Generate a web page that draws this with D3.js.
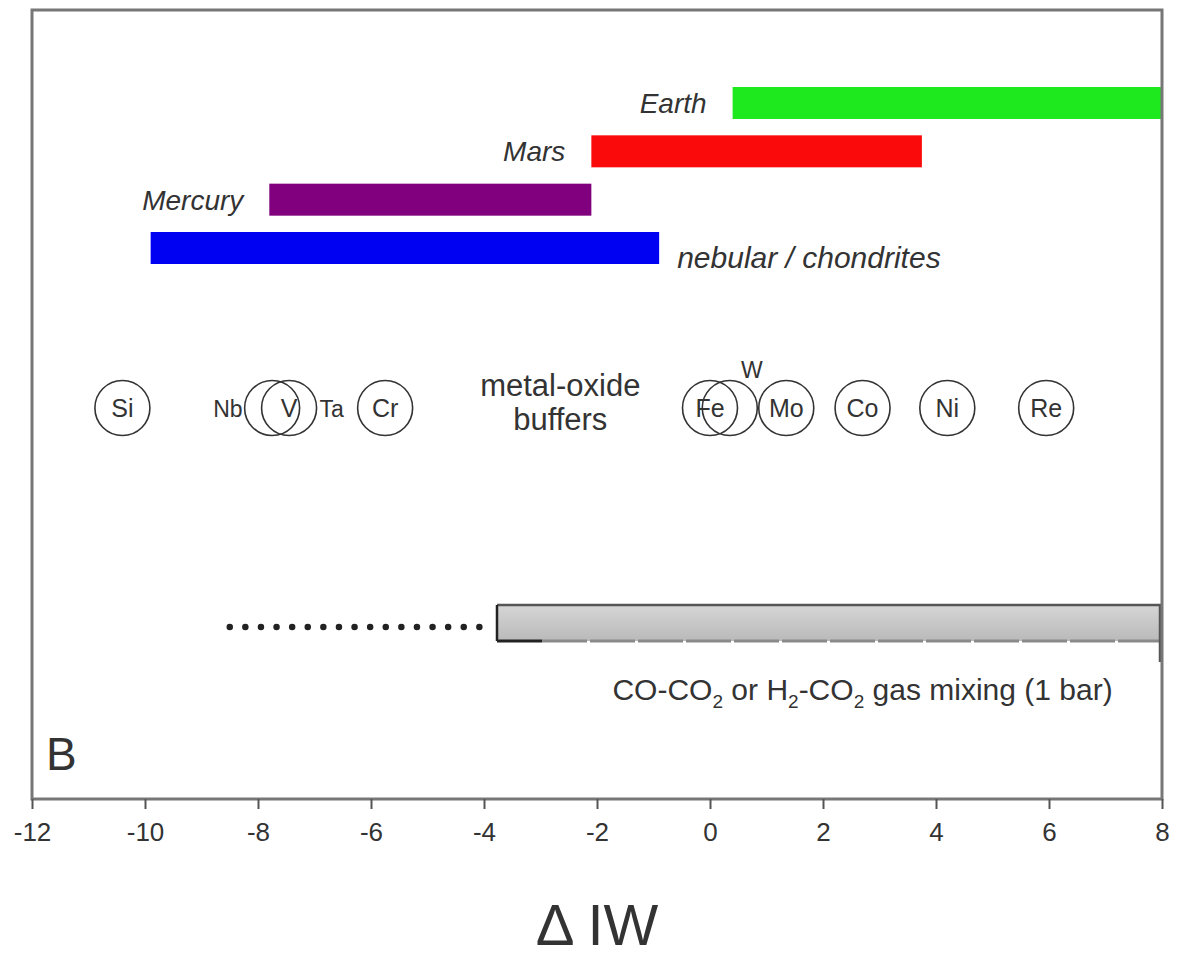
<!DOCTYPE html>
<html>
<head>
<meta charset="utf-8">
<script src="https://cdn.jsdelivr.net/npm/d3@7"></script>
<style>
  body { margin: 0; background: #fff; }
  svg text { font-family: "Liberation Sans", Arial, sans-serif; fill: #333; }
</style>
</head>
<body>
<svg id="chart" width="1184" height="961"></svg>
<script>
// oxygen fugacity ranges (delta IW) for bodies
const bodies = ["Earth", "Mars", "Mercury", "nebular / chondrites"];
const bodyMin = [0.4, -2.1, -7.8, -9.9];
const bodyMax = [8, 3.75, -2.1, -0.9];

// metal-oxide buffers
const elements = ["Si", "Nb", "V", "Ta", "Cr", "Fe", "W", "Mo", "Co", "Ni", "Re"];
const elementIW = [-10.4, -7.75, -7.45, -7.45, -5.75, 0.0, 0.35, 1.35, 2.7, 4.2, 5.95];

// gas mixing range and its dotted extension
const gasRange = [-3.77, 8];
const gasDotted = [-8.5, -3.85];

const xTicks = [-12, -10, -8, -6, -4, -2, 0, 2, 4, 6, 8];

const svg = d3.select("#chart");
const margin = {top: 10, right: 22, bottom: 162, left: 32};
const width = 1184 - margin.left - margin.right;
const height = 961 - margin.top - margin.bottom;

const g = svg.append("g")
    .attr("transform", `translate(${margin.left}, ${margin.top})`);

const x = d3.scaleLinear().domain([-12, 8]).range([0, width]);

// rows of the body bars
const yBars = d3.scalePoint().domain(bodies).range([93, 238]);
const barH = 32;
const color = d3.scaleOrdinal()
    .domain(bodies)
    .range(["#1ee81e", "#fa0a0a", "#80007e", "#0000f2"]);

const bars = bodies.map((b, i) => ({name: b, lo: bodyMin[i], hi: bodyMax[i]}));

g.selectAll("rect.body")
    .data(bars)
    .enter()
    .append("rect")
    .attr("class", "body")
    .attr("x", d => x(d.lo))
    .attr("y", d => yBars(d.name) - barH / 2)
    .attr("width", d => x(d.hi) - x(d.lo))
    .attr("height", barH)
    .attr("fill", d => color(d.name));

g.selectAll("text.body")
    .data(bars)
    .enter()
    .append("text")
    .attr("class", "body")
    .attr("x", d => d.name.startsWith("nebular") ? x(d.hi) + 18 : x(d.lo) - 26)
    .attr("y", d => yBars(d.name) + (d.name.startsWith("nebular") ? 20 : 10))
    .attr("text-anchor", d => d.name.startsWith("nebular") ? "start" : "end")
    .style("font-style", "italic")
    .style("font-size", d => d.name.startsWith("nebular") ? "30px" : "28px")
    .text(d => d.name);

// element circles
const circleY = 398;
const r = 27.5;
const labelPos = {Nb: "left", Ta: "right", W: "top"};
const els = elements.map((e, i) => ({name: e, v: elementIW[i]}));

g.selectAll("circle.el")
    .data(els.filter(d => d.name !== "Ta"))
    .enter()
    .append("circle")
    .attr("class", "el")
    .attr("cx", d => x(d.v))
    .attr("cy", circleY)
    .attr("r", r)
    .attr("fill", "none")
    .attr("stroke", "#333")
    .attr("stroke-width", 1.6);

g.selectAll("text.el")
    .data(els)
    .enter()
    .append("text")
    .attr("class", "el")
    .attr("x", d => {
        const p = labelPos[d.name];
        if (p === "left") return x(d.v) - r - 2;
        if (p === "right") return x(d.v) + r + 3;
        if (p === "top") return x(d.v) + 22;
        return x(d.v);
    })
    .attr("y", d => labelPos[d.name] === "top" ? circleY - 30 : circleY + 9)
    .attr("text-anchor", d => {
        const p = labelPos[d.name];
        if (p === "left") return "end";
        if (p === "right") return "start";
        return "middle";
    })
    .style("font-size", d => labelPos[d.name] ? "23px" : "25px")
    .text(d => d.name);

const buf = g.append("text")
    .attr("x", x(-2.65))
    .attr("y", circleY - 12)
    .attr("text-anchor", "middle")
    .style("font-size", "31px");
buf.append("tspan").attr("x", x(-2.65)).text("metal-oxide");
buf.append("tspan").attr("x", x(-2.65)).attr("dy", 34).text("buffers");

// gas mixing bar
const gasTop = 595, gasH = 36;
const defs = svg.append("defs");
const grad = defs.append("linearGradient").attr("id", "gasFill")
    .attr("x1", 0).attr("y1", 0).attr("x2", 0).attr("y2", 1);
grad.append("stop").attr("offset", "0%").attr("stop-color", "#d6d6d6");
grad.append("stop").attr("offset", "100%").attr("stop-color", "#b9b9b9");

g.append("rect")
    .attr("x", x(gasRange[0]))
    .attr("y", gasTop)
    .attr("width", x(gasRange[1]) - x(gasRange[0]))
    .attr("height", gasH)
    .attr("fill", "url(#gasFill)");

g.append("line")
    .attr("x1", x(gasRange[0])).attr("x2", x(gasRange[1]))
    .attr("y1", gasTop).attr("y2", gasTop)
    .attr("stroke", "#555").attr("stroke-width", 2.5);

g.append("line")
    .attr("x1", x(gasRange[0])).attr("x2", x(gasRange[0]))
    .attr("y1", gasTop).attr("y2", gasTop + gasH)
    .attr("stroke", "#222").attr("stroke-width", 2.5);

g.append("line")
    .attr("x1", x(gasRange[0])).attr("x2", x(gasRange[0]) + 45)
    .attr("y1", gasTop + gasH).attr("y2", gasTop + gasH)
    .attr("stroke", "#222").attr("stroke-width", 3);

g.append("line")
    .attr("x1", x(gasRange[0]) + 45).attr("x2", x(gasRange[1]))
    .attr("y1", gasTop + gasH).attr("y2", gasTop + gasH)
    .attr("stroke", "#8a8a8a").attr("stroke-width", 3)
    .attr("stroke-dasharray", "45 3");

g.append("line")
    .attr("x1", x(gasRange[1]) - 2).attr("x2", x(gasRange[1]) - 2)
    .attr("y1", gasTop).attr("y2", gasTop + 57)
    .attr("stroke", "#555").attr("stroke-width", 2.5);

g.append("line")
    .attr("x1", x(gasDotted[0])).attr("x2", x(gasDotted[1]))
    .attr("y1", gasTop + 22).attr("y2", gasTop + 22)
    .attr("stroke", "#222").attr("stroke-width", 6.5)
    .attr("stroke-linecap", "round")
    .attr("stroke-dasharray", "0 15.6");

const gasLabel = g.append("text")
    .attr("x", x(2.7))
    .attr("y", gasTop + 95)
    .attr("text-anchor", "middle")
    .style("font-size", "30px");
gasLabel.append("tspan").text("CO-CO");
gasLabel.append("tspan").attr("dy", 8).style("font-size", "19px").text("2");
gasLabel.append("tspan").attr("dy", -8).text(" or H");
gasLabel.append("tspan").attr("dy", 8).style("font-size", "19px").text("2");
gasLabel.append("tspan").attr("dy", -8).text("-CO");
gasLabel.append("tspan").attr("dy", 8).style("font-size", "19px").text("2");
gasLabel.append("tspan").attr("dy", -8).text(" gas mixing (1 bar)");

// panel letter
g.append("text")
    .attr("x", 14)
    .attr("y", 760)
    .style("font-size", "46px")
    .text("B");

// frame
g.append("rect")
    .attr("x", 0).attr("y", 0)
    .attr("width", width).attr("height", height)
    .attr("fill", "none")
    .attr("stroke", "#777")
    .attr("stroke-width", 3);

// x axis
const xAxis = g.append("g")
    .attr("transform", `translate(0, ${height})`)
    .call(d3.axisBottom(x)
        .tickValues(xTicks)
        .tickSize(10)
        .tickPadding(14)
        .tickFormat(d => String(d)));
xAxis.select(".domain").remove();
xAxis.selectAll(".tick line").attr("stroke", "#555").attr("stroke-width", 2);
xAxis.selectAll(".tick text")
    .style("font-size", "26px")
    .style("font-family", "Liberation Sans, Arial, sans-serif")
    .attr("fill", "#333");

g.append("text")
    .attr("x", x(-2))
    .attr("y", height + 146)
    .attr("text-anchor", "middle")
    .style("font-size", "58px")
    .text("\u0394 IW");
</script>
</body>
</html>
